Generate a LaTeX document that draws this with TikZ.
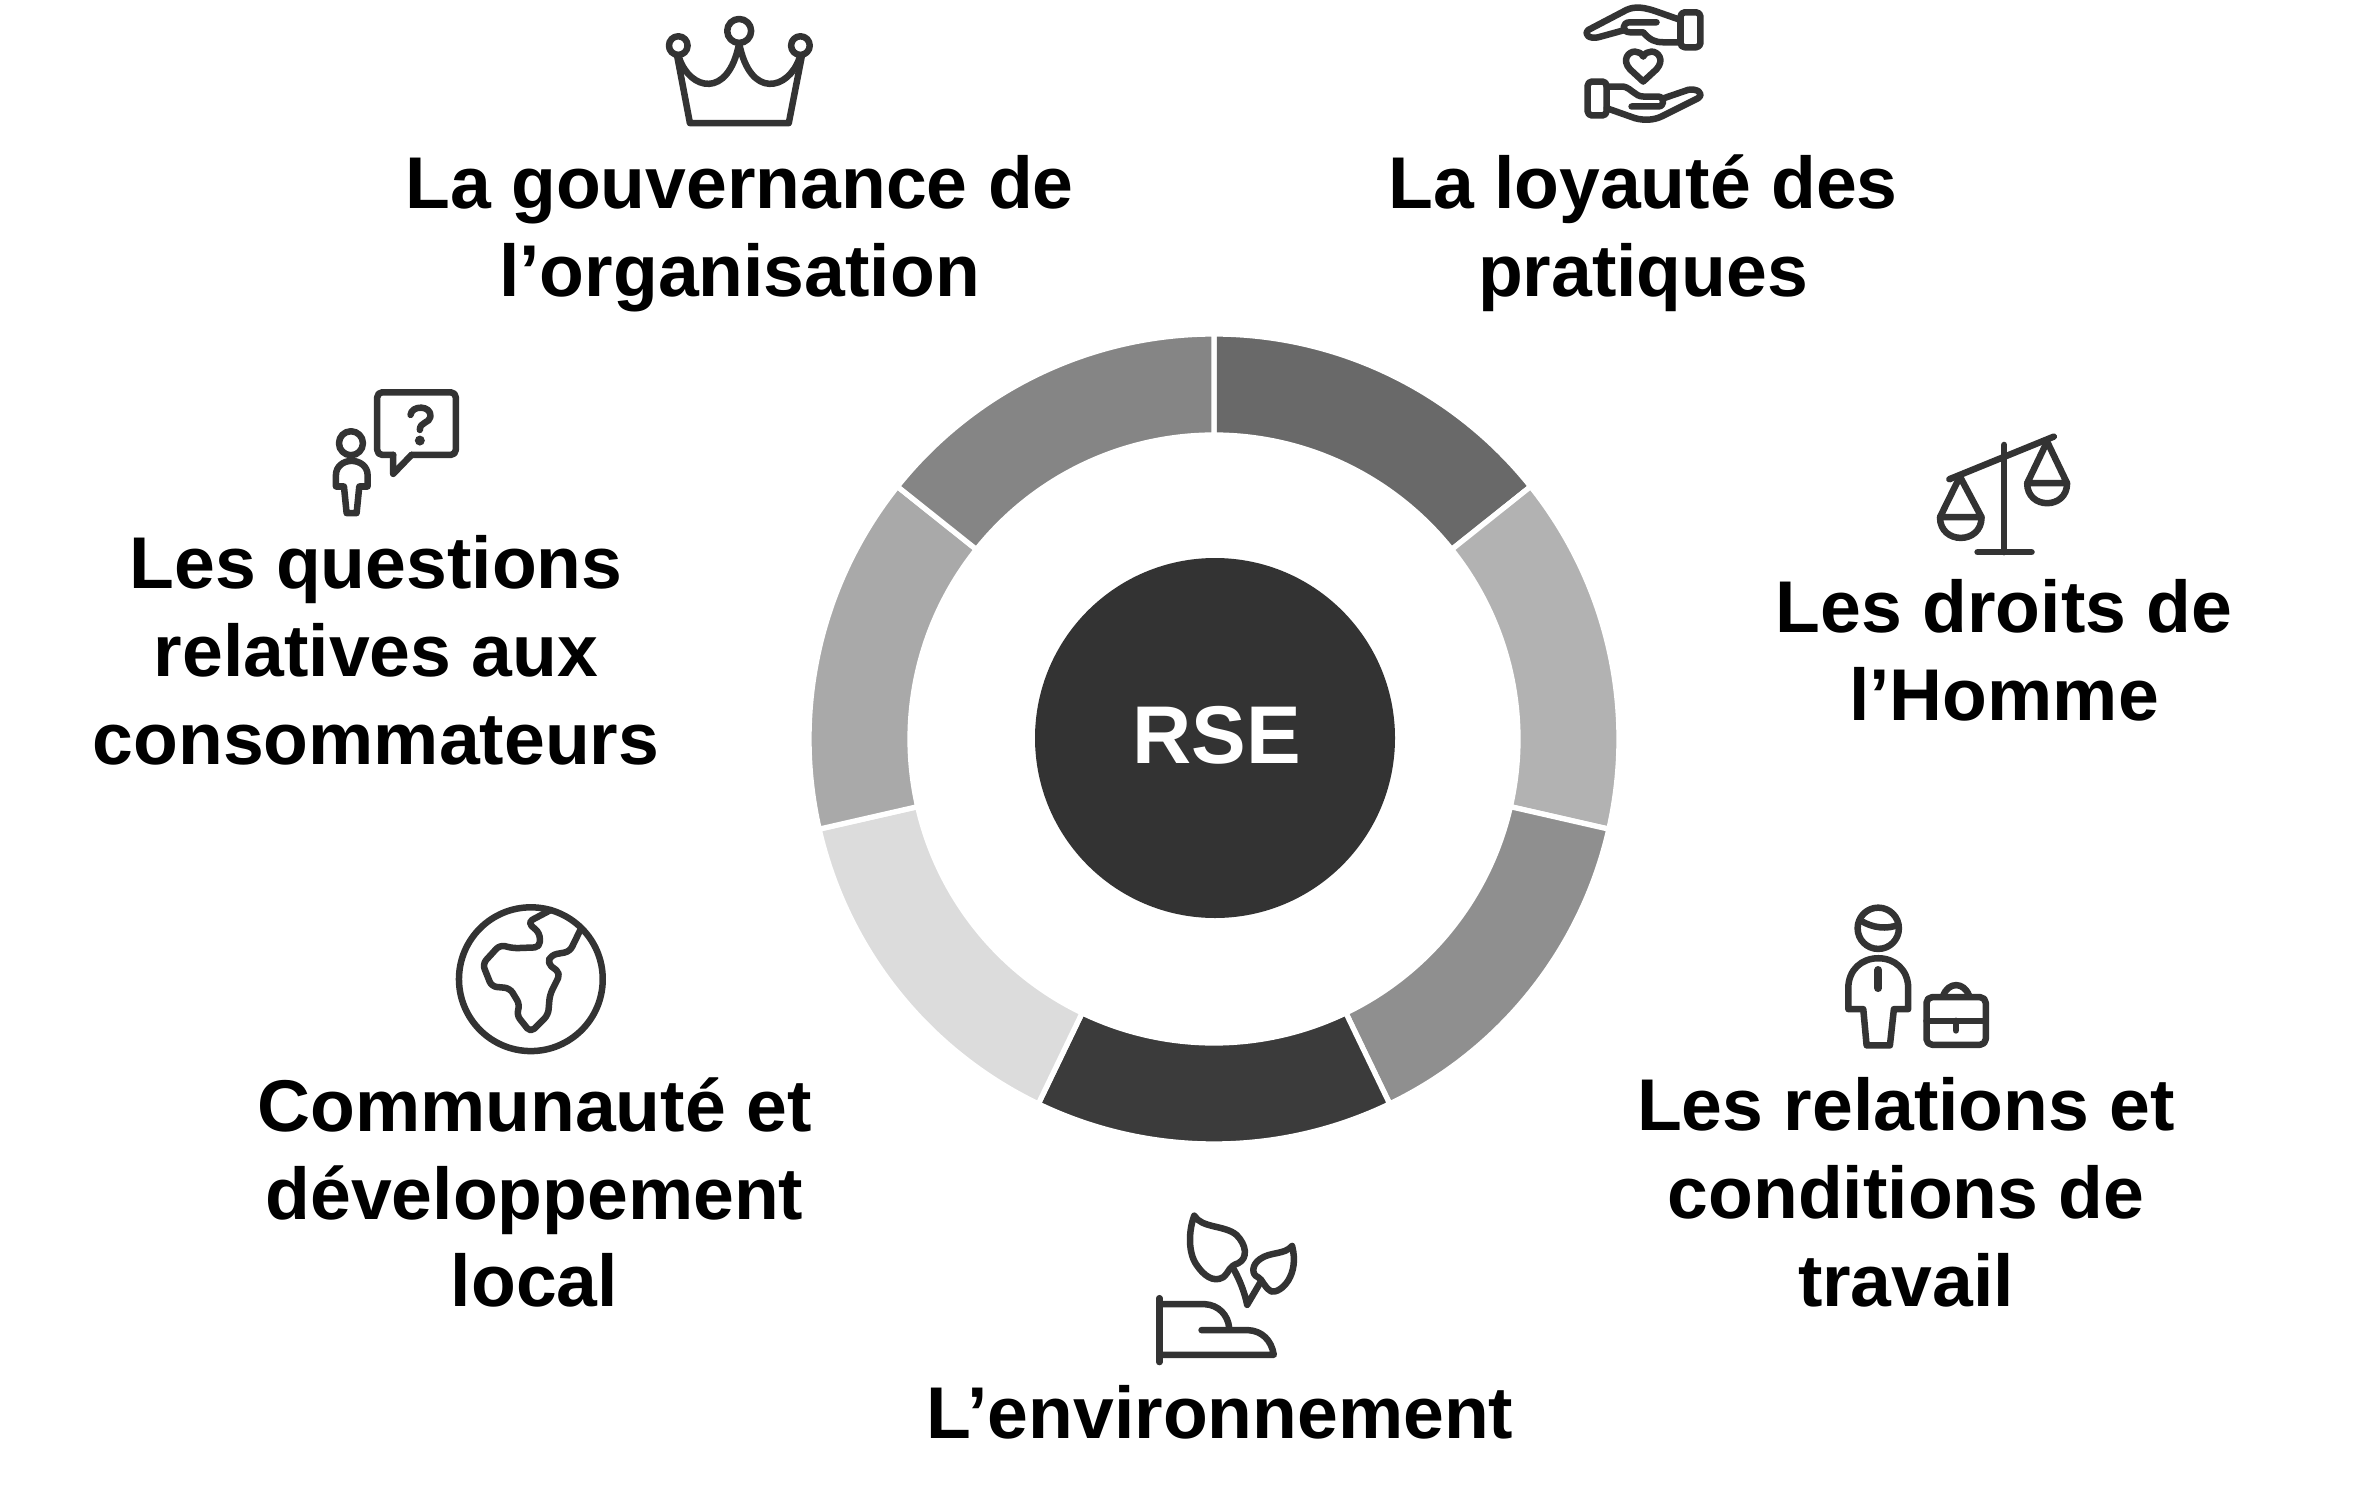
\documentclass[tikz,border=0pt]{standalone}
\usepackage{fontspec}
\usepackage{xcolor}
\setmainfont{Liberation Sans}
\definecolor{iconGray}{HTML}{333333}
\definecolor{segA}{HTML}{696969}
\definecolor{segB}{HTML}{B2B2B2}
\definecolor{segC}{HTML}{8F8F8F}
\definecolor{segD}{HTML}{3B3B3B}
\definecolor{segE}{HTML}{DCDCDC}
\definecolor{segF}{HTML}{A9A9A9}
\definecolor{segG}{HTML}{858585}
\tikzset{
	topic/.style={align=center, text=black, font=\fontsize{20.85}{25}\selectfont\bfseries},
	icon/.style={draw=iconGray, line width=1.85pt, line cap=round, line join=round},
	crop/.style={x=0.00333333cm, y=-0.00333333cm}
}
\begin{document}
\begin{tikzpicture}[x=0.01cm, y=-0.01cm]
	\useasboundingbox (0, 0) rectangle (2379, 1500);
	\begin{scope}[shift={(1214, 739)}]
		\foreach \a/\b/\c in {-90/-38.57/segA, -38.57/12.86/segB, 12.86/64.29/segC, 64.29/115.71/segD, 115.71/167.14/segE, 167.14/218.57/segF, 218.57/270/segG}
			\path[fill=\c, draw=white, line width=1.5pt] (\a:405) arc (\a:\b:405) -- (\b:304) arc (\b:\a:304) -- cycle;
		\path[fill=iconGray] (1, -1) circle (180);
	\end{scope}
	\node[topic, text=white, font=\fontsize{23.3}{28}\selectfont\bfseries] (rse) at (1216.5, 735) {RSE};
	\node[topic] (gouvernance) at (739.5, 233.5) {La gouvernance de\\l’organisation};
	\node[topic] (loyaute) at (1643, 233.5) {La loyauté des\\pratiques};
	\node[topic] (droits) at (2004, 650.5) {Les droits de\\l’Homme};
	\node[topic] (relations) at (1906, 1192.5) {Les relations et\\conditions de\\travail};
	\node[topic] (environnement) at (1220, 1412.5) {L’environnement};
	\node[topic] (communaute) at (534.5, 1192.5) {Communauté et\\développement\\local};
	\node[topic] (questions) at (376, 650.5) {Les questions\\relatives aux\\consommateurs};
	% crown
	\begin{scope}[shift={(640, 0)}, crop]
		\draw[icon] (115, 137) circle (28);
		\draw[icon] (298, 93) circle (36);
		\draw[icon] (482, 137) circle (28);
		\draw[icon] (112, 170) -- (150, 370) -- (447, 370) -- (486, 170);
		\draw[icon] (118, 175) .. controls (150, 270) and (265, 300) .. (298, 130) .. controls (331, 300) and (446, 270) .. (479, 175);
	\end{scope}
	% hands and heart
	\begin{scope}[shift={(1560, 0)}, crop]
		\draw[icon, rounded corners=1.2pt] (362, 37) rectangle (422, 142);
		\draw[icon] (362, 60) -- (285, 33) .. controls (240, 18) and (215, 20) .. (190, 35) -- (85, 90) .. controls (70, 105) and (90, 118) .. (115, 112) -- (195, 90);
		\draw[icon] (290, 67) -- (210, 67) .. controls (185, 67) and (185, 97) .. (210, 97) -- (250, 97) .. controls (270, 120) and (285, 127) .. (310, 127) -- (362, 127);
		\draw[icon, rounded corners=1.2pt] (83, 245) rectangle (140, 347);
		\draw[icon] (140, 260) -- (190, 260) .. controls (215, 265) and (225, 290) .. (250, 290) -- (295, 290) .. controls (315, 292) and (315, 320) .. (295, 320) -- (215, 320);
		\draw[icon] (312, 295) -- (385, 270) .. controls (410, 265) and (435, 280) .. (415, 295) -- (305, 350) .. controls (280, 362) and (250, 362) .. (225, 355) -- (140, 325);
		\draw[icon] (250, 245) -- (210, 208) .. controls (185, 180) and (205, 155) .. (225, 155) .. controls (235, 155) and (245, 160) .. (250, 170) .. controls (255, 160) and (265, 155) .. (275, 155) .. controls (295, 155) and (315, 180) .. (290, 208) -- cycle;
	\end{scope}
	% scales
	\begin{scope}[shift={(1910, 420)}, crop]
		\draw[icon] (118, 178) -- (432, 50);
		\draw[icon] (283, 75) -- (283, 397);
		\draw[icon] (203, 397) -- (365, 397);
		\draw[icon] (90, 292) -- (150, 170) -- (215, 292) -- cycle;
		\draw[icon] (90, 292) .. controls (90, 375) and (215, 375) .. (215, 292);
		\draw[icon] (352, 190) -- (412, 65) -- (472, 190) -- cycle;
		\draw[icon] (352, 190) .. controls (352, 270) and (472, 270) .. (472, 190);
	\end{scope}
	% worker and briefcase
	\begin{scope}[shift={(1820, 890)}, crop]
		\draw[icon] (175, 115) circle (62);
		\draw[icon] (122, 92) .. controls (160, 115) and (200, 118) .. (235, 105);
		\draw[icon] (85, 358) -- (85, 295) .. controls (85, 240) and (125, 205) .. (175, 205) .. controls (225, 205) and (265, 240) .. (265, 295) -- (265, 358) -- (222, 358) -- (210, 467) -- (140, 467) -- (130, 358) -- cycle;
		\draw[icon, line width=2.2pt] (175, 240) -- (175, 295);
		\draw[icon, rounded corners=1.6pt] (320, 322) rectangle (498, 465);
		\draw[icon] (320, 393) -- (498, 393);
		\draw[icon] (408, 393) -- (408, 422);
		\draw[icon] (370, 318) .. controls (385, 275) and (433, 275) .. (448, 318);
	\end{scope}
	% plant in hand
	\begin{scope}[shift={(1130, 1200)}, crop]
		\draw[icon] (88, 295) -- (88, 487);
		\draw[icon] (88, 313) -- (225, 313) .. controls (265, 315) and (295, 345) .. (298, 385);
		\draw[icon] (215, 391) -- (355, 391) .. controls (395, 393) and (425, 420) .. (432, 465) -- (88, 465);
		\draw[icon] (193, 47) .. controls (215, 85) and (285, 75) .. (320, 105) .. controls (350, 135) and (355, 175) .. (325, 190) .. controls (295, 200) and (300, 215) .. (280, 232) .. controls (250, 250) and (220, 225) .. (200, 195) .. controls (175, 160) and (175, 95) .. (193, 47);
		\draw[icon] (310, 205) .. controls (330, 240) and (345, 280) .. (352, 315) -- (392, 247);
		\draw[icon] (487, 138) .. controls (465, 165) and (420, 155) .. (390, 178) .. controls (365, 195) and (365, 225) .. (385, 232) .. controls (400, 240) and (400, 260) .. (425, 275) .. controls (455, 280) and (510, 225) .. (487, 138);
	\end{scope}
	% globe
	\begin{scope}[shift={(440, 890)}, crop]
		\draw[icon] (273, 268) circle (216);
		\draw[icon, rounded corners=1.5pt] (333, 60) -- (263, 97) -- (300, 130) -- (300, 172) -- (220, 175) -- (180, 165) -- (128, 222) -- (155, 290) -- (210, 295) -- (240, 345) -- (230, 375) -- (272, 428) -- (325, 375) -- (330, 315) -- (362, 250) -- (322, 220) -- (335, 195) -- (390, 185) -- (424, 115);
	\end{scope}
	% person and question
	\begin{scope}[shift={(320, 380)}, crop]
		\draw[icon] (93, 190) circle (36);
		\draw[icon] (48, 320) -- (48, 285) .. controls (48, 260) and (70, 243) .. (95, 243) .. controls (120, 243) and (143, 260) .. (143, 285) -- (143, 320) -- (118, 320) -- (110, 400) -- (80, 400) -- (72, 320) -- cycle;
		\draw[icon, rounded corners=1.4pt] (220, 225) -- (172, 225) -- (172, 37) -- (408, 37) -- (408, 225) -- (275, 225);
		\draw[icon] (220, 225) -- (220, 282) -- (275, 225);
		\draw[icon] (272, 105) .. controls (275, 75) and (335, 75) .. (332, 110) .. controls (330, 130) and (300, 125) .. (300, 150);
		\path[fill=iconGray] (300, 182) circle (15);
	\end{scope}
\end{tikzpicture}
\end{document}
